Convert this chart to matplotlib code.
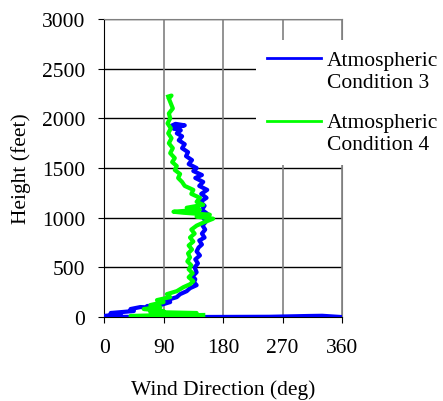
import matplotlib.pyplot as plt

plt.rcParams["font.family"] = ["Liberation Serif", "DejaVu Serif"]

# Atmospheric Condition 3 (wind direction deg, height ft)
dir_c3 = [358, 330, 310, 250, 150, 60, 5, 0, 25, 10, 45, 40, 55, 70, 65, 85,
          100, 95, 110, 115, 125, 130, 140, 136, 138, 134, 140, 137, 142, 138,
          145, 140, 143, 148, 144, 152, 148, 153, 149, 154, 150, 156, 148, 152,
          146, 155, 147, 156, 144, 150, 138, 148, 135, 140, 128, 133, 124, 127,
          118, 122, 113, 118, 110, 116, 104, 122, 108, 100]
h_c3 = [0, 12, 10, 2, 0, 0, 3, 10, 30, 40, 60, 80, 100, 95, 110, 120,
        150, 170, 200, 230, 260, 290, 320, 350, 380, 410, 450, 500, 540, 580,
        620, 660, 700, 730, 770, 800, 840, 880, 920, 960, 1000, 1040, 1080, 1120,
        1160, 1200, 1240, 1280, 1320, 1360, 1400, 1430, 1470, 1500, 1540, 1580, 1620, 1660,
        1700, 1740, 1780, 1820, 1850, 1880, 1900, 1930, 1945, 1920]

# Atmospheric Condition 4
dir_c4 = [150, 100, 60, 40, 120, 140, 70, 90, 60, 85, 70, 90, 80, 100, 95, 110,
          120, 130, 135, 128, 134, 128, 132, 126, 130, 127, 133, 128, 135, 130,
          137, 132, 140, 150, 165, 140, 160, 120, 105, 145, 125, 150, 140, 145,
          132, 135, 122, 118, 112, 115, 107, 110, 103, 107, 100, 104, 98, 102,
          97, 101, 96, 100, 98, 104, 101, 98, 102, 97]
h_c4 = [20, 15, 5, 10, 25, 40, 50, 60, 80, 100, 120, 150, 170, 200, 230, 260,
        300, 330, 360, 400, 440, 480, 520, 560, 600, 640, 680, 720, 760, 800,
        840, 880, 920, 950, 990, 1010, 1030, 1050, 1060, 1080, 1100, 1130, 1160, 1200,
        1240, 1280, 1320, 1360, 1400, 1440, 1480, 1520, 1560, 1600, 1650, 1700, 1750, 1800,
        1850, 1900, 1950, 2000, 2050, 2100, 2150, 2200, 2230, 2220]

x_ticks = [0, 90, 180, 270, 360]
y_ticks = [0, 500, 1000, 1500, 2000, 2500, 3000]

fs = 15.5
fig = plt.figure(figsize=(4.43, 4.02), dpi=100)
ax = fig.add_axes([0.235, 0.209, 0.537, 0.741])

ax.plot(dir_c3, h_c3, color="#0000ff", lw=3, label="Atmospheric\nCondition 3", zorder=3)
ax.plot(dir_c4, h_c4, color="#00ff00", lw=3, label="Atmospheric\nCondition 4", zorder=4)

ax.set_xlim(0, 360)
ax.set_ylim(0, 3000)
ax.set_xticks(x_ticks)
ax.set_yticks(y_ticks)
for y in y_ticks[1:]:
    ax.axhline(y, color="black", lw=1, zorder=1)
for x in x_ticks[1:]:
    ax.axvline(x, color="#808080", lw=1.2, zorder=1)

ax.spines["top"].set_color("#808080")
ax.spines["right"].set_color("#808080")
ax.tick_params(direction="out", length=4, labelsize=fs)
ax.tick_params(axis="x", pad=11)
ax.tick_params(axis="y", pad=9.5)

ax.set_xlabel("Wind Direction (deg)", fontsize=fs, labelpad=16)
ax.set_ylabel("Height (feet)", fontsize=fs, labelpad=8)

leg = ax.legend(loc="upper left", bbox_to_anchor=(0.639, 0.93), fontsize=fs,
                frameon=True, facecolor="white", edgecolor="none", framealpha=1,
                fancybox=False, handlelength=2.5, handletextpad=0.3,
                labelspacing=1.0, borderpad=0.5, borderaxespad=0)
leg.set_zorder(10)
for line in leg.get_lines():
    line.set_linewidth(2)
for hp in leg._legend_handle_box.get_children():
    for row in hp.get_children():
        row.align = "top"

fig.savefig("out.png", dpi=100)
